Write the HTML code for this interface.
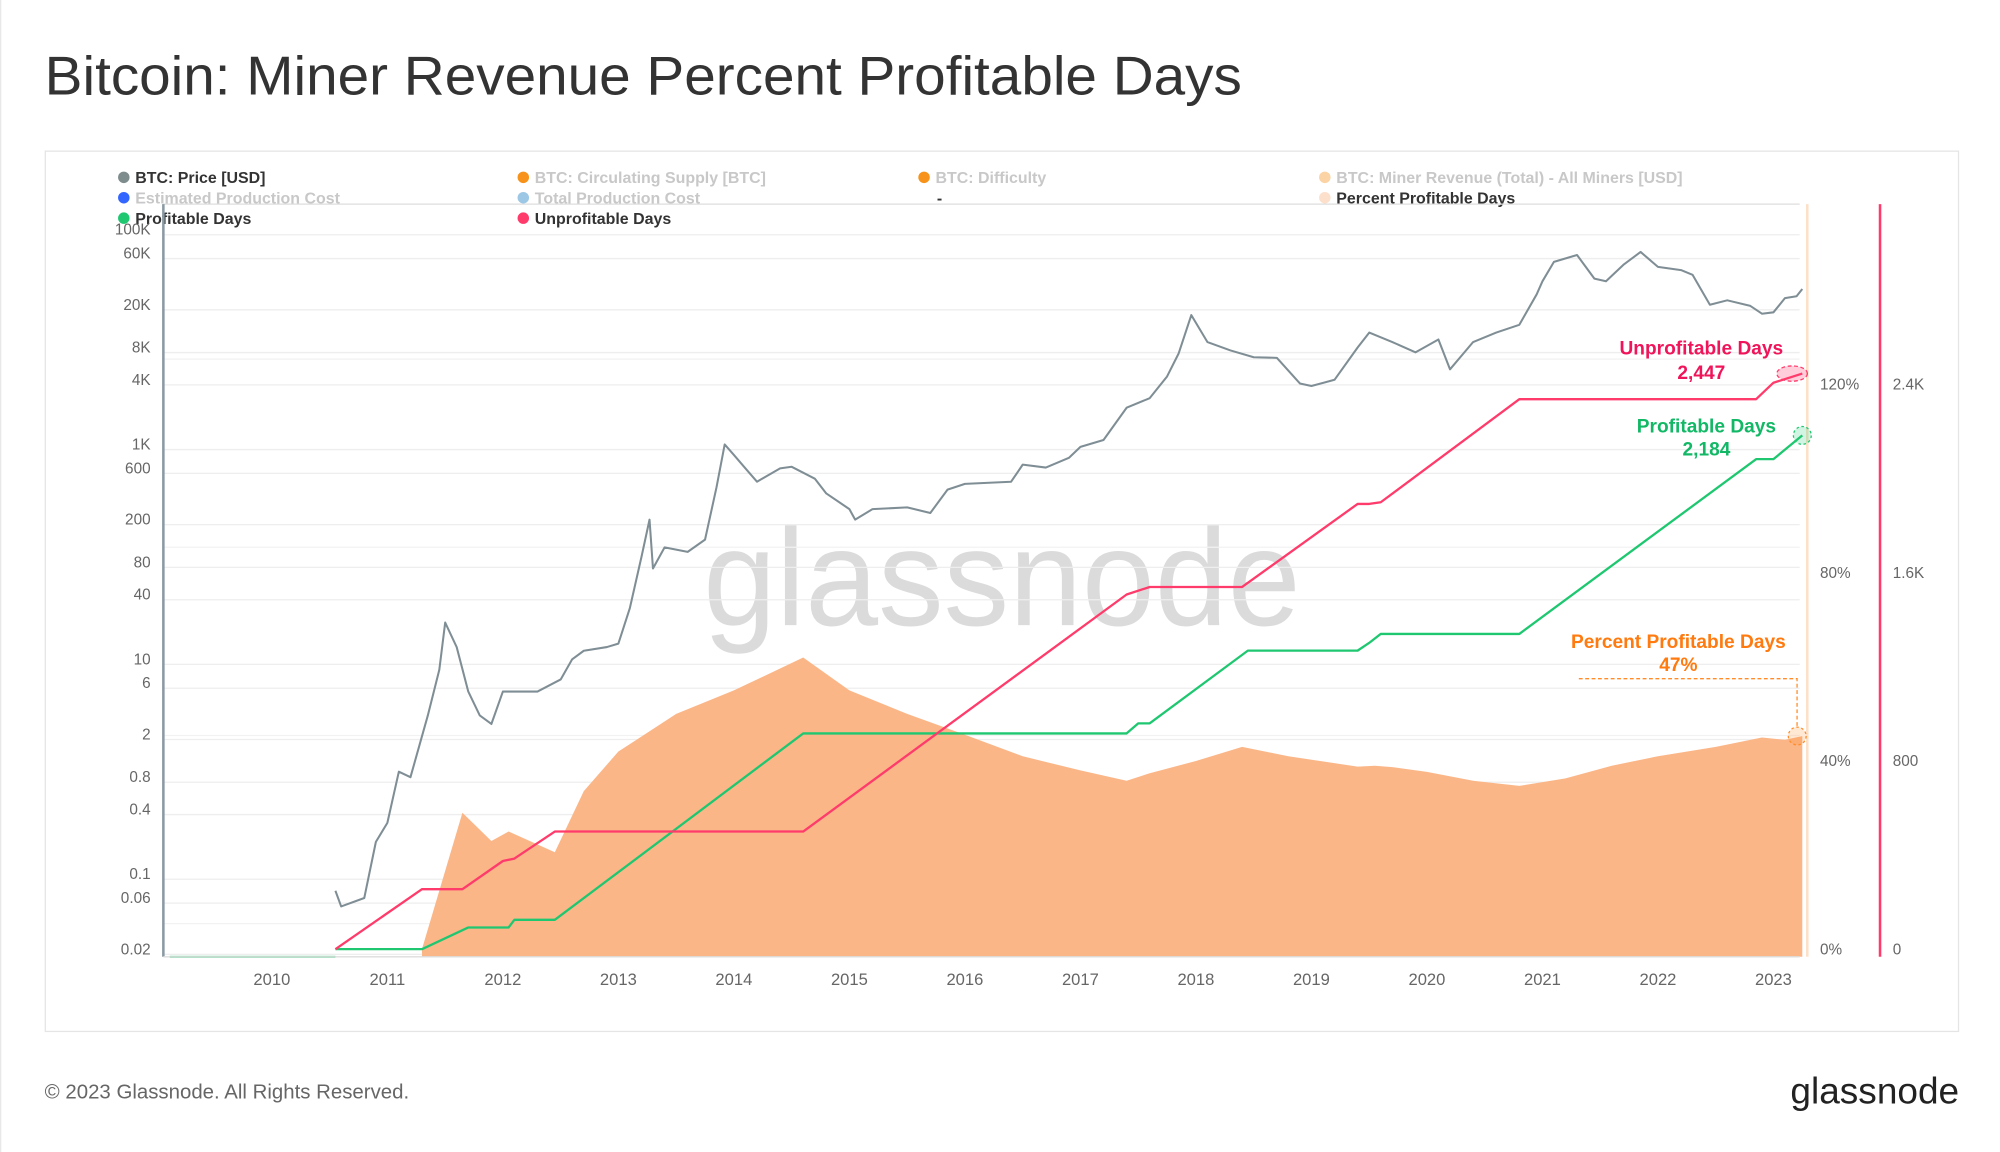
<!DOCTYPE html>
<html><head><meta charset="utf-8"><style>
html,body{margin:0;padding:0;background:#fff;}
svg{display:block;font-family:"Liberation Sans",sans-serif;}
</style></head><body>
<svg id="chart" width="2000" height="1152" viewBox="0 0 1567 903" preserveAspectRatio="none" xmlns="http://www.w3.org/2000/svg">
<rect x="0" y="0" width="1567" height="903" fill="#fff"/>
<line x1="0.5" y1="0" x2="0.5" y2="903" stroke="#e8e8e8"/>
<text x="35" y="74" font-size="43" fill="#333" textLength="938" lengthAdjust="spacingAndGlyphs">Bitcoin: Miner Revenue Percent Profitable Days</text>
<rect x="35.5" y="118.5" width="1499" height="690" fill="none" stroke="#e5e5e5"/>
<g id="legend" font-size="12.5" font-weight="bold"></g>
<text x="785" y="490" font-size="108" text-anchor="middle" fill="#000" fill-opacity="0.14" textLength="468" lengthAdjust="spacingAndGlyphs">glassnode</text>
<g id="grid"></g>
<g id="area"></g>
<g id="lines"></g>
<g id="axes" font-size="12" fill="#666"></g>
<g id="annot" font-weight="bold"></g>
<text x="35" y="861" font-size="16" fill="#666">© 2023 Glassnode. All Rights Reserved.</text>
<text x="1535" y="865" font-size="29" text-anchor="end" fill="#222">glassnode</text>
</svg>
<script>
const priceYears=[2010.55,2010.6,2010.8,2010.9,2011.0,2011.1,2011.2,2011.35,2011.45,2011.5,2011.6,2011.7,2011.8,2011.9,2012.0,2012.1,2012.3,2012.5,2012.6,2012.7,2012.9,2013.0,2013.1,2013.2,2013.27,2013.3,2013.4,2013.6,2013.75,2013.85,2013.92,2014.0,2014.1,2014.2,2014.4,2014.5,2014.7,2014.8,2015.0,2015.05,2015.2,2015.5,2015.7,2015.85,2016.0,2016.4,2016.5,2016.7,2016.9,2017.0,2017.2,2017.4,2017.6,2017.75,2017.85,2017.96,2018.1,2018.3,2018.5,2018.7,2018.9,2019.0,2019.2,2019.4,2019.5,2019.7,2019.9,2020.1,2020.2,2020.4,2020.6,2020.8,2020.95,2021.0,2021.1,2021.3,2021.45,2021.55,2021.7,2021.85,2022.0,2022.2,2022.3,2022.45,2022.6,2022.8,2022.9,2023.0,2023.1,2023.2,2023.25];
const priceValues=[0.07,0.05,0.06,0.2,0.3,0.9,0.8,3,8,22,13,5,3,2.5,5,5,5,6.5,10,12,13,14,30,90,200,70,110,100,130,400,1000,800,600,450,600,620,480,350,250,200,250,260,230,380,430,450,650,610,750,950,1100,2200,2700,4300,7000,16000,9000,7500,6500,6400,3700,3500,4000,8000,11000,9000,7200,9500,5000,9000,11000,13000,25000,33000,50000,58000,35000,33000,47000,62000,45000,42000,38000,20000,22000,19500,16500,17000,23000,24000,28000];
const unprofYears=[2010.55,2011.3,2011.65,2012.0,2012.1,2012.45,2014.6,2017.4,2017.6,2018.4,2019.4,2019.5,2019.6,2020.8,2022.85,2023.0,2023.25];
const unprofValues=[0,255,255,375,385,500,500,1508,1540,1540,1893,1893,1900,2338,2338,2408,2447];
const profYears=[2010.55,2011.3,2011.7,2012.05,2012.1,2012.45,2014.6,2017.4,2017.5,2017.6,2018.45,2019.4,2019.5,2019.6,2020.8,2022.85,2023.0,2023.25];
const profValues=[0,0,92,92,125,125,917,917,960,960,1269,1269,1302,1340,1340,2083,2083,2184];
const pctYears=[2011.3,2011.65,2011.9,2012.05,2012.45,2012.7,2013.0,2013.5,2014.0,2014.6,2015.0,2015.5,2016.0,2016.5,2017.0,2017.4,2017.6,2018.0,2018.4,2018.8,2019.4,2019.55,2019.7,2020.0,2020.4,2020.8,2021.2,2021.6,2022.0,2022.5,2022.9,2023.1,2023.25];
const pctValues=[0,29,23,25,20.6,33.6,42,50,55,62,55,50,45.6,41,38,35.8,37.4,40,43,41,38.8,39,38.7,37.7,35.8,34.7,36.3,39,41,43,45,44.5,45.3];
const priceTicks=[100000,60000,20000,8000,4000,1000,600,200,80,40,10,6,2,0.8,0.4,0.1,0.06,0.02];
const priceTickLabels=["100K","60K","20K","8K","4K","1K","600","200","80","40","10","6","2","0.8","0.4","0.1","0.06","0.02"];
const pctTicks=[0,40,80,120];
const dayTicks=[0,800,1600,2400];
const dayTickLabels=["0","800","1.6K","2.4K"];
const yearTicks=[2010,2011,2012,2013,2014,2015,2016,2017,2018,2019,2020,2021,2022,2023];

const NS="http://www.w3.org/2000/svg";
const X0=128,X1=1410,YB=750,YT=160;
const xS=y=>213+(y-2010)*90.5;
const yP=v=>180+(5-Math.log10(v))*84.2;
const yPct=v=>744-v/40*147.5;
const yD=v=>744-v/800*147.5;
function mk(tag,attrs,parent){const e=document.createElementNS(NS,tag);for(const k in attrs)e.setAttribute(k,attrs[k]);parent.appendChild(e);return e;}
const grid=document.getElementById('grid'),axes=document.getElementById('axes'),lines=document.getElementById('lines'),area=document.getElementById('area'),annot=document.getElementById('annot'),legend=document.getElementById('legend');

const legItems=[["BTC: Price [USD]","#7f8c8d",97,139,1],["BTC: Circulating Supply [BTC]","#f7931a",410,139,0],["BTC: Difficulty","#f7931a",724,139,0],["BTC: Miner Revenue (Total) - All Miners [USD]","#fbd3a4",1038,139,0],["Estimated Production Cost","#3366ff",97,155,0],["Total Production Cost","#9cc8e6",410,155,0],["-","",734,155,1],["Percent Profitable Days","#fde0cc",1038,155,1],["Profitable Days","#1ec770",97,171,1],["Unprofitable Days","#ff3b6b",410,171,1]];
legItems.forEach(it=>{
  const g=mk('g',{},legend);
  
  
  if(it[1]) mk('circle',{cx:it[2],cy:it[3],r:4.5,fill:it[1]},g);
  const t=mk('text',{x:it[1]?it[2]+9:it[2],y:it[3]+4.5,fill:it[4]?'#333':'#c8c8c8'},g);t.textContent=it[0];
});

mk('line',{x1:X0,y1:YT,x2:X1,y2:YT,stroke:'#ddd'},grid);
priceTicks.forEach((v,i)=>{
  const y=yP(v);
  const l=mk('line',{x1:X0,y1:y+4,x2:X1,y2:y+4,stroke:'#eee'},grid);
  
  
  const t=mk('text',{x:118,y:y+4,'text-anchor':'end'},axes);
  
  
  t.textContent=priceTickLabels[i];
});
[0,40,80,120].forEach(v=>mk('line',{x1:X0,y1:yPct(v)-20,x2:X1,y2:yPct(v)-20,stroke:'#f2f2f2'},grid));
mk('line',{x1:X0,y1:YT,x2:X0,y2:YB,stroke:'#8a9aa3','stroke-width':2},axes);
mk('line',{x1:1416,y1:YT,x2:1416,y2:YB,stroke:'#fde0c8','stroke-width':2},axes);
mk('line',{x1:1473,y1:YT,x2:1473,y2:YB,stroke:'#ff3b6b','stroke-width':2},axes);
mk('line',{x1:X0,y1:YB,x2:X1,y2:YB,stroke:'#ddd'},axes);
pctTicks.forEach(v=>{const t=mk('text',{x:1426,y:yPct(v)+4},axes);
  
  
  t.textContent=v+'%';});
dayTicks.forEach((v,i)=>{const t=mk('text',{x:1483,y:yD(v)+4},axes);
  
  
  t.textContent=dayTickLabels[i];});
yearTicks.forEach(yr=>{const t=mk('text',{x:xS(yr),y:772,'text-anchor':'middle','font-size':13},axes);
  
  
  t.textContent=yr;});

let d='M'+xS(pctYears[0])+','+YB;
pctYears.forEach((yr,i)=>{d+=' L'+xS(yr).toFixed(1)+','+yPct(pctValues[i]).toFixed(1);});
d+=' L'+xS(pctYears[pctYears.length-1]).toFixed(1)+','+YB+' Z';
const ar=mk('path',{d:d,fill:'#fbb688'},area);



function line(xs,vs,sc,color,w,name){
  const p=xs.map((yr,i)=>xS(yr).toFixed(1)+','+sc(vs[i]).toFixed(1)).join(' L');
  const e=mk('path',{d:'M'+p,fill:'none',stroke:color,'stroke-width':w,'stroke-linejoin':'round'},lines);
  
  
}
mk('line',{x1:133,y1:YB,x2:xS(2010.55),y2:YB,stroke:'#1ec770','stroke-width':1.5},lines);
line(priceYears,priceValues,yP,'#7f8e95',1.6,'btc-price-line');
line(profYears,profValues,yD,'#1ec770',1.8,'profitable-days-line');
line(unprofYears,unprofValues,yD,'#ff3b6b',1.8,'unprofitable-days-line');

function endMark(x,y,fill,stroke){mk('ellipse',{cx:x,cy:y,rx:12,ry:6,fill:fill,stroke:stroke,'stroke-dasharray':'3,2'},annot);}
const ue=unprofYears.length-1,pe=profYears.length-1,ce=pctYears.length-1;
endMark(xS(unprofYears[ue])-8,yD(unprofValues[ue]),'rgba(255,59,107,0.25)','#ff3b6b');
mk('circle',{cx:xS(profYears[pe]),cy:yD(profValues[pe]),r:7,fill:'rgba(30,199,112,0.2)',stroke:'#1ec770','stroke-dasharray':'2,2'},annot);
mk('circle',{cx:xS(pctYears[ce])-4,cy:yPct(pctValues[ce]),r:7,fill:'rgba(255,140,40,0.2)',stroke:'#ff8c28','stroke-dasharray':'2,2'},annot);
mk('path',{d:'M1237,532 L1408,532 L1408,'+(yPct(pctValues[ce])-7),fill:'none',stroke:'#ff8c28','stroke-dasharray':'3,2'},annot);
function lab(x,y,txt,c,name){const t=mk('text',{x:x,y:y,'text-anchor':'middle',fill:c,'font-size':15},annot);
  
  
  t.textContent=txt;}
lab(1333,278,'Unprofitable Days','#f0145a','unprofitable-label');
lab(1333,297,'2,447','#f0145a','unprofitable-value');
lab(1337,339,'Profitable Days','#13b866','profitable-label');
lab(1337,357,'2,184','#13b866','profitable-value');
lab(1315,508,'Percent Profitable Days','#ff7a0f','percent-label');
lab(1315,526,'47%','#ff7a0f','percent-value');
</script>
</body></html>
